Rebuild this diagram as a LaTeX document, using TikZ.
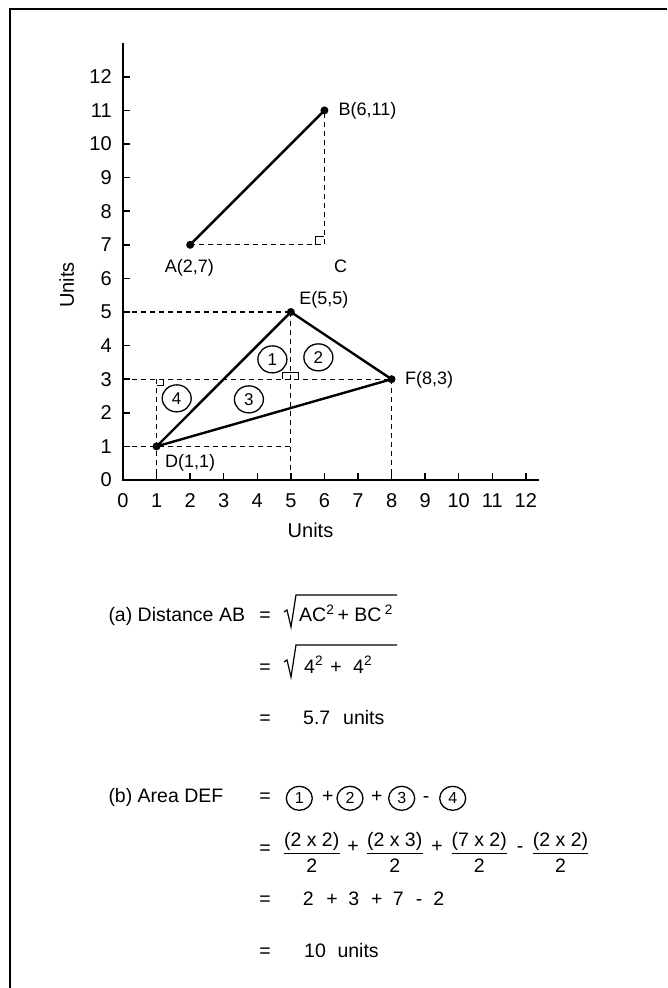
\documentclass[tikz,border=0pt]{standalone}
\usepackage{fontspec}
\setmainfont{Liberation Sans}
\usetikzlibrary{shapes.geometric}
\begin{document}
\begin{tikzpicture}[x=1pt,y=-1pt,
  axisline/.style={line width=2pt},
  seg/.style={line width=2.4pt, line cap=round, line join=round},
  dashln/.style={line width=1.1pt, dash pattern=on 5pt off 4pt},
  tickmark/.style={line width=1.5pt},
  lbl/.style={font=\fontsize{18}{21}\selectfont, inner sep=0pt},
  ticklbl/.style={font=\fontsize{20}{23}\selectfont, inner sep=0pt},
  unitlbl/.style={font=\fontsize{20}{23}\selectfont, inner sep=0pt},
  eq/.style={font=\fontsize{19.5}{23}\selectfont, inner sep=0pt},
  circnum/.style={draw, ellipse, line width=1.3pt, minimum width=29pt, minimum height=27pt, inner sep=0pt, font=\fontsize{17}{20}\selectfont},
  circeq/.style={draw, ellipse, line width=1.3pt, minimum width=26pt, minimum height=24pt, inner sep=0pt, font=\fontsize{16}{19}\selectfont},
  dot/.style={circle, fill, inner sep=0pt, minimum size=8pt},
  ramark/.style={line width=1.1pt},
  radical/.style={line width=1.2pt, line join=miter}
]
\useasboundingbox (0,0) rectangle (667,988);
\fill[white] (0,0) rectangle (667,988);
\draw[line width=2.5pt] (10,988) -- (10,9) -- (667,9);

\begin{scope}[shift={(123pt,-480pt)}, x=33.57pt, y=33.6pt]
  % axes
  \coordinate (O) at (0,0);
  \coordinate (ytop) at (0,13.0);
  \coordinate (xend) at (12.4,0);
  \draw[axisline] (ytop) -- (O) -- (xend);
  \foreach \k in {1,...,12} {
    \draw[tickmark] (0,\k) -- ++(7pt,0);
    \draw[tickmark] (\k,0) -- ++(0,7pt);
  }
  \foreach \k in {0,...,12} {
    \node[ticklbl, anchor=east] (yl\k) at (-0.33,\k) {\k};
    \node[ticklbl] (xl\k) at (\k,-0.625) {\k};
  }
  \node[unitlbl, rotate=90] (yunits) at (-1.68,5.80) {Units};
  \node[unitlbl] (xunits) at (5.585,-1.49) {Units};

  % points
  \coordinate (A) at (2,7);
  \coordinate (B) at (6,11);
  \coordinate (C) at (6,7);
  \coordinate (D) at (1,1);
  \coordinate (E) at (5,5);
  \coordinate (F) at (8,3);
  \coordinate (Y5) at (0,5);
  \coordinate (Y3) at (0,3);
  \coordinate (Y1) at (0,1);
  \coordinate (P51) at (5,1);
  \coordinate (P53) at (5,3);
  \coordinate (P13) at (1,3);
  \coordinate (X1) at (1,0);
  \coordinate (X5) at (5,0);
  \coordinate (X8) at (8,0);

  % dashed guides
  \draw[dashln] (A) -- (C) -- (B);
  \draw[dashln] (Y5) -- (E);
  \draw[dashln] (Y3) -- (F);
  \draw[dashln] (Y1) -- (P51);
  \draw[dashln] (E) -- (X5);
  \draw[dashln] (P13) -- (X1);
  \draw[dashln] (F) -- (X8);

  % right-angle marks
  \draw[ramark] ([xshift=-8.5pt]C) -- ++(0,8pt) -- ++(8.5pt,0);
  \draw[ramark] ([xshift=-8pt]P53) -- ++(0,7pt) -- ++(16pt,0) -- ++(0,-7pt);
  \draw[ramark] ([yshift=-6pt]P13) -- ++(7pt,0) -- ++(0,6pt);

  % solid segments
  \draw[seg] (A) -- (B);
  \draw[seg] (D) -- (E) -- (F) -- cycle;

  % dots
  \foreach \p in {A,B,D,E,F} \node[dot] (dot\p) at (\p) {};

  % labels
  \node[lbl, anchor=base west] (Bl) at (6.42,10.86) {B(6,11)};
  \node[lbl, anchor=base] (Al) at (1.98,6.18) {A(2,7)};
  \node[lbl, anchor=base] (Cl) at (6.48,6.18) {C};
  \node[lbl, anchor=base west] (El) at (5.25,5.23) {E(5,5)};
  \node[lbl, anchor=base west] (Fl) at (8.40,2.84) {F(8,3)};
  \node[lbl, anchor=base west] (Dl) at (1.25,0.375) {D(1,1)};

  % circled region numbers
  \node[circnum] (c1) at (4.45,3.59) {1};
  \node[circnum] (c2) at (5.82,3.65) {2};
  \node[circnum] (c3) at (3.75,2.40) {3};
  \node[circnum] (c4) at (1.60,2.43) {4};
\end{scope}

% (a) distance
\node[eq, anchor=base west] (a1) at (108.3,621.7) {(a) Distance AB};
\node[eq, anchor=base] (a1eq) at (265,621.7) {=};
\node[eq, anchor=base west] (a1r) at (299,621.7) {AC\textsuperscript{2}\,+ BC\,\textsuperscript{2}};
\draw[radical] (284,612) -- (287,610) -- (291,627) -- (296,595) -- (397,595);

\node[eq, anchor=base] (a2eq) at (265,673) {=};
\node[eq, anchor=base west] (a2x) at (304,673) {4\textsuperscript{2}};
\node[eq, anchor=base] (a2p) at (336,673) {+};
\node[eq, anchor=base west] (a2y) at (353,673) {4\textsuperscript{2}};
\draw[radical] (284,662) -- (287,660) -- (291,677) -- (296,645) -- (397,645);

\node[eq, anchor=base] (a3eq) at (265,724) {=};
\node[eq, anchor=base west] (a3v) at (303,724) {5.7};
\node[eq, anchor=base west] (a3u) at (343,724) {units};

% (b) area
\node[eq, anchor=base west] (b1) at (108.3,802.7) {(b) Area DEF};
\node[eq, anchor=base] (b1eq) at (265,802.7) {=};
\node[circeq] (e1) at (299.3,798.3) {1};
\node[eq, anchor=base] (b1p1) at (327.7,802.7) {+};
\node[circeq] (e2) at (350,798.3) {2};
\node[eq, anchor=base] (b1p2) at (376.7,802.7) {+};
\node[circeq] (e3) at (401.7,798.3) {3};
\node[eq, anchor=base] (b1m) at (426,802.7) {-};
\node[circeq] (e4) at (452.7,798.3) {4};

\node[eq, anchor=base] (b2eq) at (265,854) {=};
\node[eq, anchor=base] (n1) at (311.7,846) {(2 x 2)};
\node[eq, anchor=base] (d1) at (311.7,872.3) {2};
\draw[line width=1.1pt] (284,853.7) -- (340,853.7);
\node[eq, anchor=base] (b2p1) at (353,852) {+};
\node[eq, anchor=base] (n2) at (394.7,846) {(2 x 3)};
\node[eq, anchor=base] (d2) at (394.7,872.3) {2};
\draw[line width=1.1pt] (366.7,853.7) -- (422.7,853.7);
\node[eq, anchor=base] (b2p2) at (437,852) {+};
\node[eq, anchor=base] (n3) at (479.2,846) {(7 x 2)};
\node[eq, anchor=base] (d3) at (479.2,872.3) {2};
\draw[line width=1.1pt] (451.7,853.7) -- (506.7,853.7);
\node[eq, anchor=base] (b2m) at (520,852) {-};
\node[eq, anchor=base] (n4) at (560.5,846) {(2 x 2)};
\node[eq, anchor=base] (d4) at (560.5,872.3) {2};
\draw[line width=1.1pt] (532.7,853.7) -- (588.3,853.7);

\node[eq, anchor=base] (b3eq) at (265,905.7) {=};
\node[eq, anchor=base] (t1) at (308.3,905.7) {2};
\node[eq, anchor=base] (t2) at (332,905.7) {+};
\node[eq, anchor=base] (t3) at (353.8,905.7) {3};
\node[eq, anchor=base] (t4) at (376.7,905.7) {+};
\node[eq, anchor=base] (t5) at (398.3,905.7) {7};
\node[eq, anchor=base] (t6) at (419,905.7) {-};
\node[eq, anchor=base] (t7) at (438.7,905.7) {2};

\node[eq, anchor=base] (b4eq) at (265,957) {=};
\node[eq, anchor=base west] (b4v) at (304,957) {10};
\node[eq, anchor=base west] (b4u) at (337.3,957) {units};
\end{tikzpicture}
\end{document}
